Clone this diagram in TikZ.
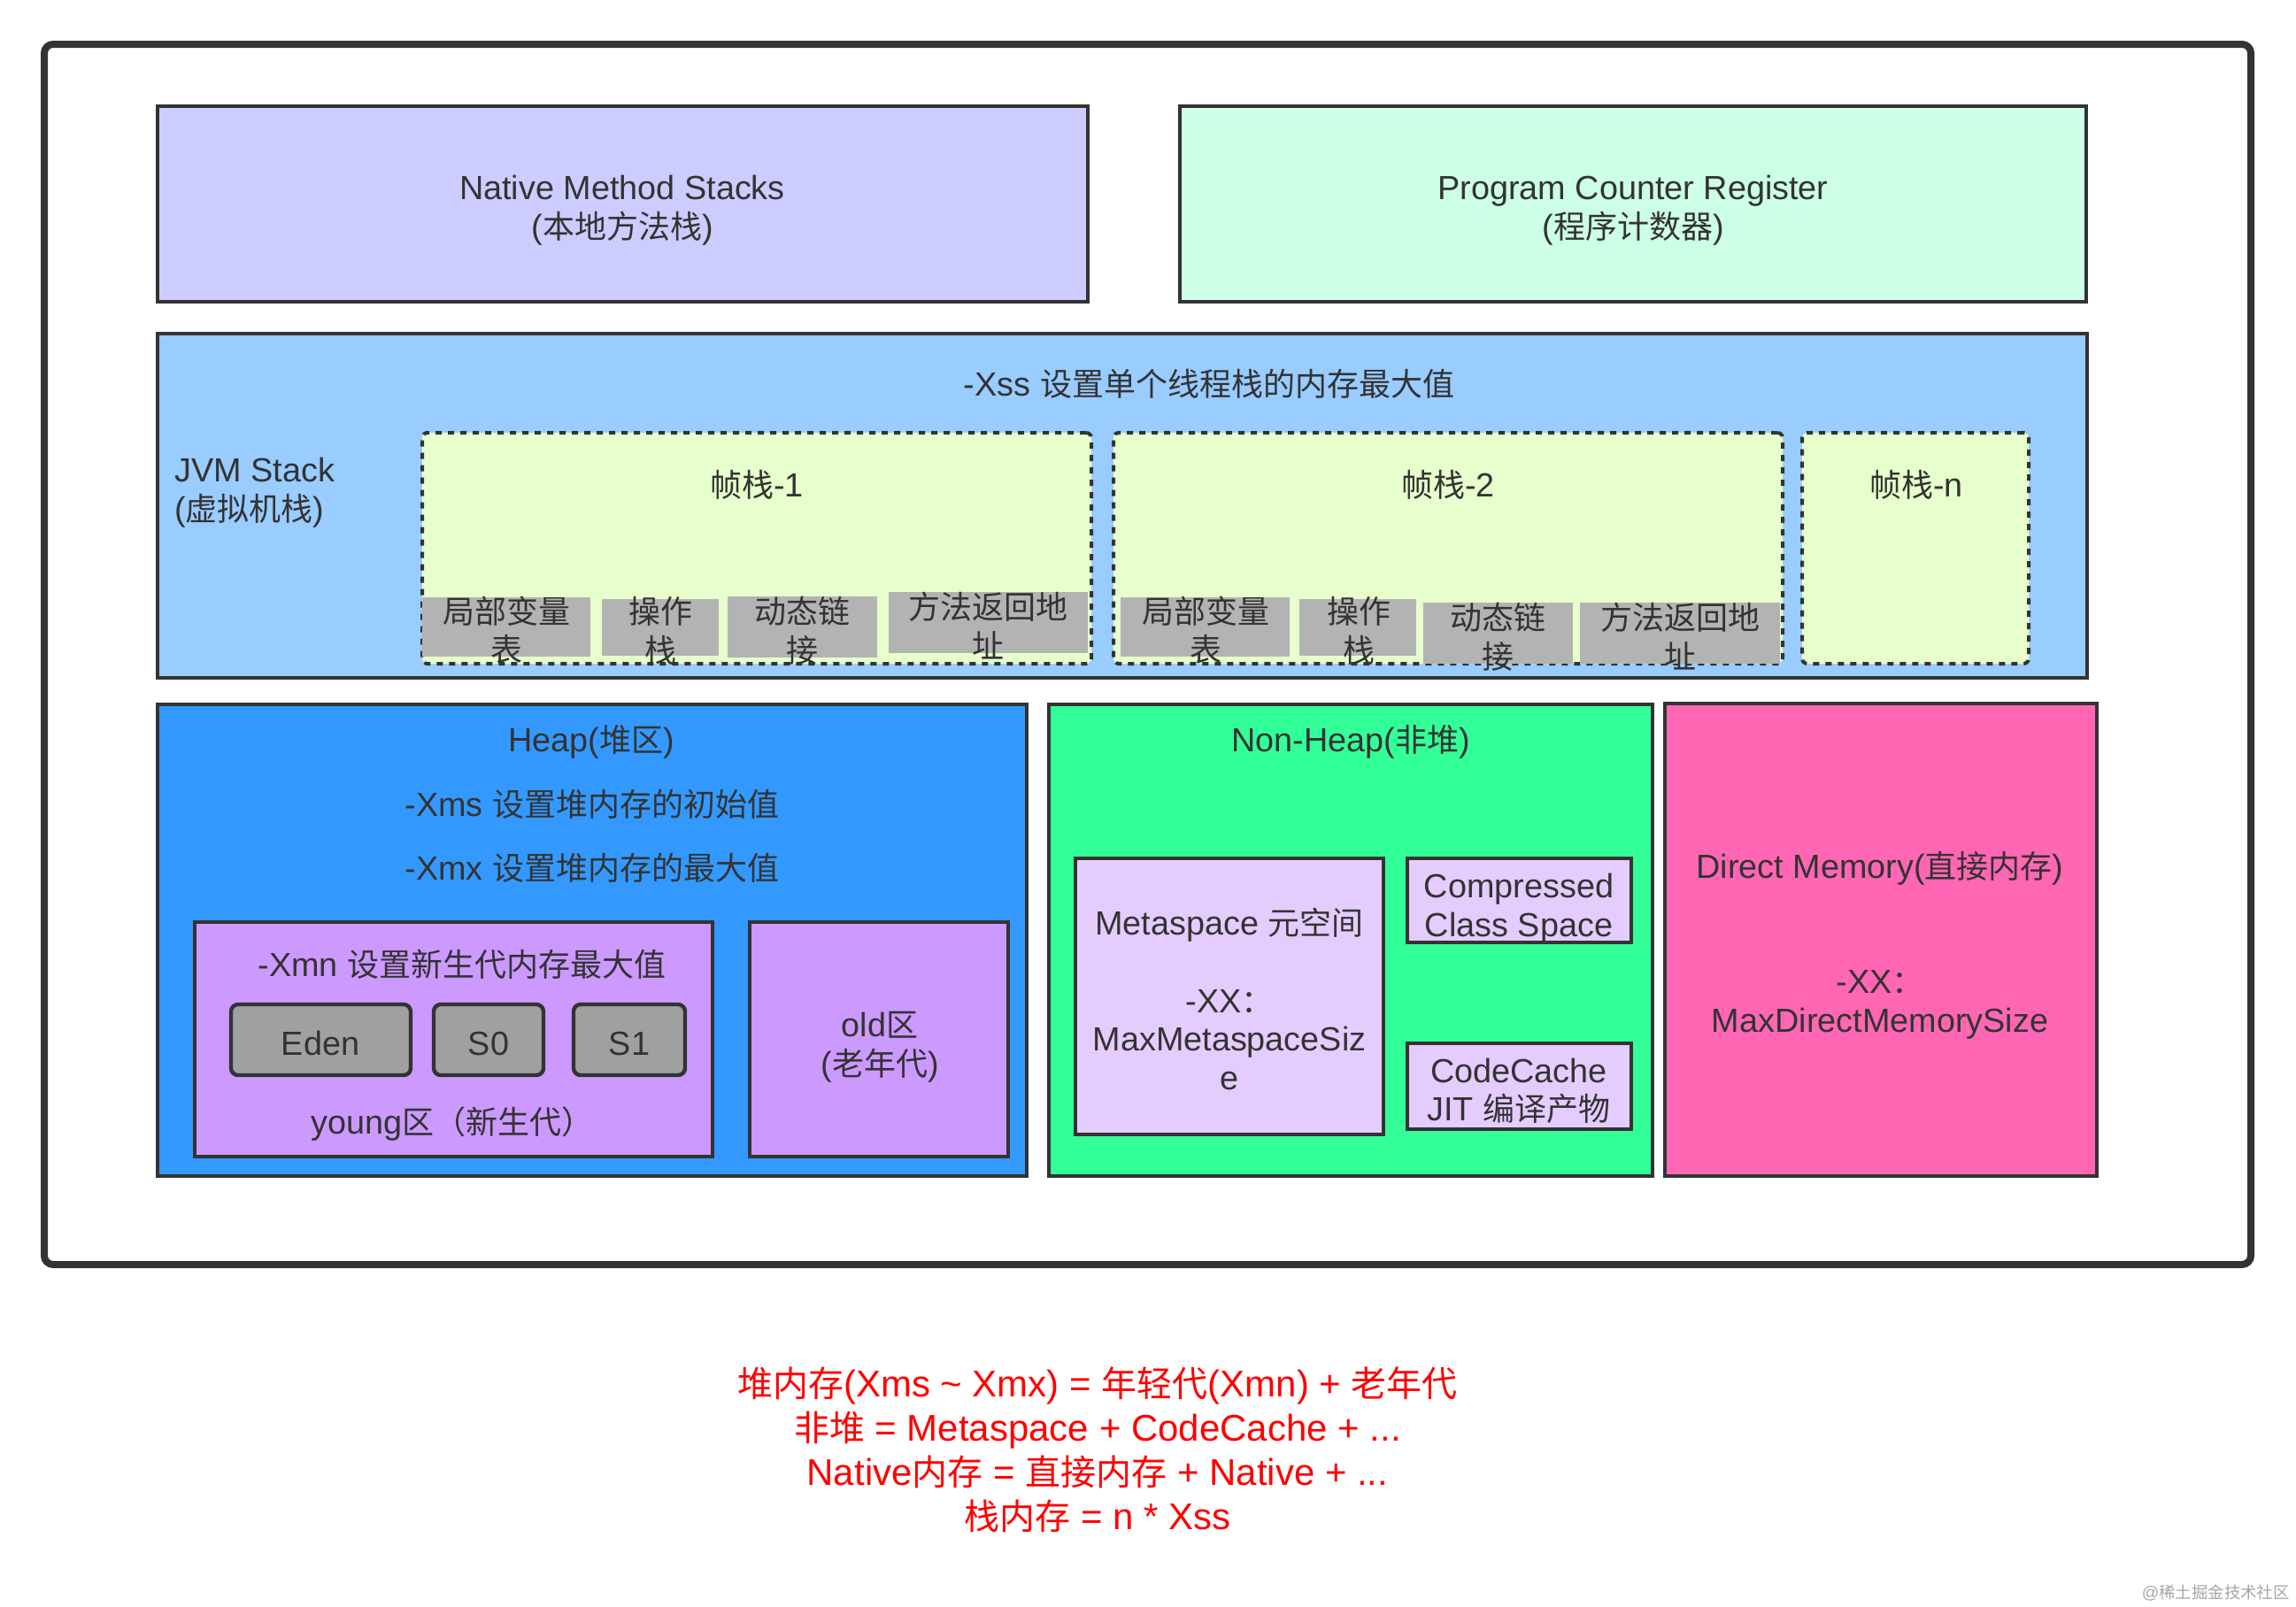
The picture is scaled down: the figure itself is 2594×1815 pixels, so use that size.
\documentclass[tikz,border=0pt]{standalone}
\usepackage{fontspec}
\setmainfont[Scale=1.05]{Liberation Sans}
\newfontfamily\cjk{Noto Sans CJK SC}
\newcommand{\zh}[1]{{\cjk #1}}
\definecolor{ink}{HTML}{333333}
\definecolor{cNative}{HTML}{CCCCFF}
\definecolor{cPC}{HTML}{CCFFE6}
\definecolor{cJVM}{HTML}{99CCFF}
\definecolor{cFrame}{HTML}{E6FFCC}
\definecolor{cGray}{HTML}{B3B3B3}
\definecolor{cHeap}{HTML}{3399FF}
\definecolor{cYoung}{HTML}{CC99FF}
\definecolor{cEden}{HTML}{A0A0A0}
\definecolor{cNon}{HTML}{33FF99}
\definecolor{cMeta}{HTML}{E5CCFF}
\definecolor{cDirect}{HTML}{FF66B3}
\tikzset{
  blk/.style={draw=ink,line width=2.2pt,inner sep=0pt,outer sep=0pt,rectangle},
  outerbox/.style={draw=ink,line width=4pt,inner sep=0pt,outer sep=0pt,rectangle,rounded corners=5pt},
  framebox/.style={draw=ink,line width=2pt,dash pattern=on 3.5pt off 3.5pt,fill=cFrame,inner sep=0pt,rectangle,rounded corners=3pt},
  graybox/.style={fill=cGray,draw=none,inner sep=0pt,rectangle},
  genbox/.style={blk,fill=cEden,rounded corners=4pt},
  lbl/.style={text=ink,align=center,inner sep=0pt,font=\fontsize{18}{21.8}\selectfont},
  redlbl/.style={text=red,align=center,inner sep=0pt,font=\fontsize{20}{25}\selectfont}
}
\newcommand{\bx}[6]{\node[#2,minimum width={(#5-#3)*0.5pt},minimum height={(#6-#4)*0.5pt}] (#1) at ({(#3+#5)/2},{-(#4+#6)/2}) {};}
\newcommand{\tx}[5]{\node[lbl,#2] (#1) at (#3,-#4) {#5};}
\begin{document}
\begin{tikzpicture}[x=0.5pt,y=0.5pt]
\useasboundingbox (0,0) rectangle (2594,-1815);
\fill[white] (0,0) rectangle (2594,-1815);
\bx{outer}{outerbox,fill=white}{50}{50}{2543}{1429}
\bx{native}{blk,fill=cNative}{178}{120}{1229}{341}
\bx{pc}{blk,fill=cPC}{1333}{120}{2357}{341}
\bx{jvm}{blk,fill=cJVM}{178}{377}{2358}{766}
\bx{f1}{framebox}{477}{489}{1233}{750}
\bx{f2}{framebox}{1258}{489}{2014}{750}
\bx{fn}{framebox}{2036}{489}{2292}{750}
\bx{g1}{graybox}{477}{675}{667}{742}
\bx{g2}{graybox}{680}{677}{812}{741}
\bx{g3}{graybox}{822}{674}{991}{743}
\bx{g4}{graybox}{1004}{669}{1229}{738}
\bx{h1}{graybox}{1266}{675}{1457}{742}
\bx{h2}{graybox}{1468}{677}{1600}{741}
\bx{h3}{graybox}{1608}{681}{1777}{750}
\bx{h4}{graybox}{1785}{681}{2011}{750}
\bx{heap}{blk,fill=cHeap}{178}{796}{1160}{1329}
\bx{young}{blk,fill=cYoung}{220}{1042}{805}{1307}
\bx{old}{blk,fill=cYoung}{847}{1042}{1139}{1307}
\bx{eden}{genbox}{261}{1135}{464}{1215}
\bx{s0}{genbox}{490}{1135}{614}{1215}
\bx{s1}{genbox}{648}{1135}{774}{1215}
\bx{non}{blk,fill=cNon}{1185}{796}{1867}{1329}
\bx{direct}{blk,fill=cDirect}{1881}{795}{2369}{1329}
\bx{meta}{blk,fill=cMeta}{1215}{970}{1563}{1282}
\bx{ccs}{blk,fill=cMeta}{1590}{970}{1843}{1065}
\bx{code}{blk,fill=cMeta}{1590}{1179}{1843}{1276}
\tx{tnative}{}{703}{238}{Native Method Stacks\\(\zh{本地方法栈})}
\tx{tpc}{}{1845}{238}{Program Counter Register\\(\zh{程序计数器})}
\tx{txss}{}{1366}{434}{-Xss \zh{设置单个线程栈的内存最大值}}
\tx{tjvm}{anchor=west,align=left}{197}{557}{JVM Stack\\(\zh{虚拟机栈})}
\tx{tf1}{}{855}{548}{\zh{帧栈}-1}
\tx{tf2}{}{1636}{548}{\zh{帧栈}-2}
\tx{tfn}{}{2165}{548}{\zh{帧栈}-n}
\tx{tg1}{}{572}{712}{\zh{局部变量}\\\zh{表}}
\tx{tg2}{}{746}{713}{\zh{操作}\\\zh{栈}}
\tx{tg3}{}{906}{713}{\zh{动态链}\\\zh{接}}
\tx{tg4}{}{1116}{707}{\zh{方法返回地}\\\zh{址}}
\tx{th1}{}{1362}{712}{\zh{局部变量}\\\zh{表}}
\tx{th2}{}{1535}{713}{\zh{操作}\\\zh{栈}}
\tx{th3}{}{1692}{720}{\zh{动态链}\\\zh{接}}
\tx{th4}{}{1898}{719}{\zh{方法返回地}\\\zh{址}}
\tx{theap}{}{668}{838}{Heap(\zh{堆区})}
\tx{txms}{}{669}{909}{-Xms \zh{设置堆内存的初始值}}
\tx{txmx}{}{669}{981}{-Xmx \zh{设置堆内存的最大值}}
\tx{txmn}{}{522}{1090}{-Xmn \zh{设置新生代内存最大值}}
\tx{teden}{}{362}{1179}{Eden}
\tx{ts0}{}{552}{1179}{S0}
\tx{ts1}{}{711}{1179}{S1}
\tx{tyoung}{}{501}{1270}{young\zh{区（新生代）}\hspace{-10pt}}
\tx{told}{}{994}{1183}{old\zh{区}\\(\zh{老年代})}
\tx{tnon}{}{1526}{838}{Non-Heap(\zh{非堆})}
\tx{tmeta}{}{1389}{1129}{Metaspace \zh{元空间}\\[21.8pt]-XX\zh{：}\\MaxMetaspaceSiz\\e}
\tx{tccs}{}{1716}{1027}{Compressed\hspace{6pt}\\Class Space}
\tx{tcode}{}{1716}{1233}{CodeCache\\JIT \zh{编译产物}}
\tx{tdir}{}{2124}{1068}{Direct Memory(\zh{直接内存})\\[43.6pt]-XX\zh{：}\\MaxDirectMemorySize}
\node[redlbl] (note) at (1240,-1638) {\zh{堆内存}(Xms \textasciitilde{} Xmx) = \zh{年轻代}(Xmn) + \zh{老年代}\\\zh{非堆} = Metaspace + CodeCache + ...\\Native\zh{内存} = \zh{直接内存} + Native + ...\\\zh{栈内存} = n * Xss};
\node[text=black!35,inner sep=0pt,font=\fontsize{9.2}{11}\selectfont,anchor=east] (wm) at (2587,-1800) {@\zh{稀土掘金技术社区}};
\end{tikzpicture}
\end{document}
